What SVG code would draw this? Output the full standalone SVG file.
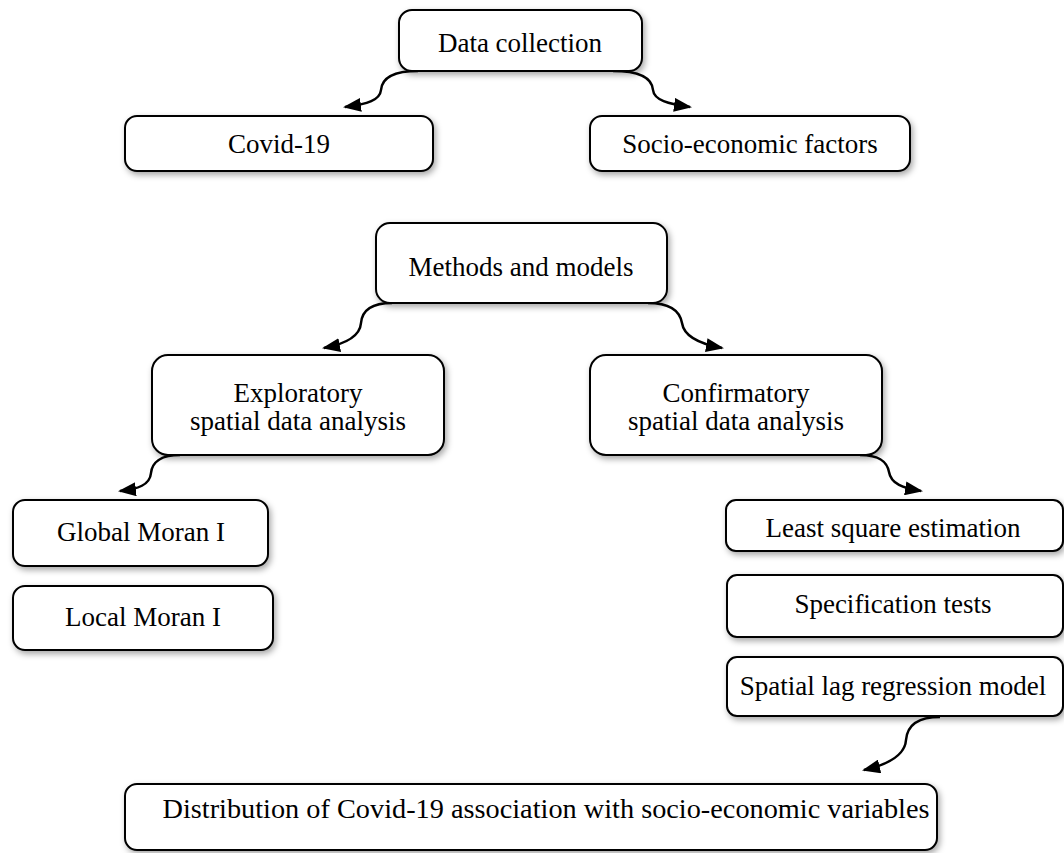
<svg xmlns="http://www.w3.org/2000/svg" width="1064" height="853" viewBox="0 0 1064 853">
<defs>
<filter id="sh" x="-10%" y="-20%" width="120%" height="150%">
<feDropShadow dx="2" dy="3" stdDeviation="3" flood-color="#000" flood-opacity="0.35"/>
</filter>
<marker id="ah" markerWidth="18" markerHeight="14" viewBox="0 0 18 14" refX="16" refY="7" orient="auto" markerUnits="userSpaceOnUse">
<path d="M0,0 L18,7 L0,14 Z" fill="#000"/>
</marker>
<style>
.box{fill:#fff;stroke:#000;stroke-width:2;filter:url(#sh)}
.t{font-size:27px;fill:#000;text-anchor:middle}
.c{fill:none;stroke:#000;stroke-width:2.5;marker-end:url(#ah)}
</style>
</defs>
<rect width="1064" height="853" fill="#fff"/>
<g id="connectors">
<path class="c" d="M418,71 C392,71 382,78 381,90 C380,100 368,104 345,107"/>
<path class="c" d="M613,71 C640,71 652,78 653,90 C654,100 668,104 690,107"/>
<path class="c" d="M392,303 C370,303 362,312 361,323 C360,337 345,344 324,348"/>
<path class="c" d="M648,303 C672,303 680,312 682,323 C684,337 700,344 722,348"/>
<path class="c" d="M180,455 C160,455 152,463 151,473 C150,485 138,489 120,491"/>
<path class="c" d="M860,455 C880,455 887,462 889,472 C891,484 903,488 921,491"/>
<path class="c" d="M940,717 C915,717 907,728 906,740 C905,755 890,764 864,770"/>
</g>
<g font-family="Liberation Serif, Tinos, Times New Roman, DejaVu Serif, serif">
<g id="n-data"><rect class="box" x="399" y="10" width="243" height="61" rx="13"/><text class="t" x="520" y="52">Data collection</text></g>
<g id="n-covid"><rect class="box" x="125" y="116" width="308" height="55" rx="12"/><text class="t" x="279" y="153">Covid-19</text></g>
<g id="n-socio"><rect class="box" x="590" y="116" width="320" height="55" rx="12"/><text class="t" x="750" y="153">Socio-economic factors</text></g>
<g id="n-methods"><rect class="box" x="376" y="223" width="291" height="80" rx="14"/><text class="t" x="521" y="276">Methods and models</text></g>
<g id="n-explor"><rect class="box" x="152" y="355" width="292" height="100" rx="16"/><text class="t" x="298" y="402">Exploratory</text><text class="t" x="298" y="430">spatial data analysis</text></g>
<g id="n-confirm"><rect class="box" x="590" y="355" width="292" height="100" rx="16"/><text class="t" x="736" y="402">Confirmatory</text><text class="t" x="736" y="430">spatial data analysis</text></g>
<g id="n-global"><rect class="box" x="13" y="500" width="255" height="66" rx="12"/><text class="t" x="141" y="541">Global Moran I</text></g>
<g id="n-local"><rect class="box" x="13" y="586" width="260" height="64" rx="12"/><text class="t" x="143" y="626">Local Moran I</text></g>
<g id="n-least"><rect class="box" x="726" y="500" width="337" height="51" rx="10"/><text class="t" x="893" y="537">Least square estimation</text></g>
<g id="n-spec"><rect class="box" x="727" y="575" width="336" height="62" rx="10"/><text class="t" x="893" y="613">Specification tests</text></g>
<g id="n-lag"><rect class="box" x="727" y="657" width="336" height="59" rx="10"/><text class="t" x="893" y="695">Spatial lag regression model</text></g>
<g id="n-dist"><rect class="box" x="125" y="784" width="812" height="66" rx="12"/><text class="t" x="546" y="818" textLength="767" lengthAdjust="spacingAndGlyphs">Distribution of Covid-19 association with socio-economic variables</text></g>
</g>
</svg>
